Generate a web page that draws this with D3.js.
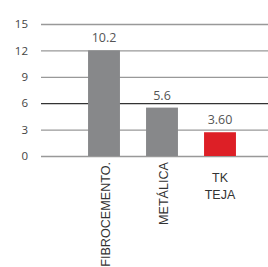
<!DOCTYPE html>
<html><head><meta charset="utf-8">
<script src="https://cdn.jsdelivr.net/npm/d3@7"></script>
<style>html,body{margin:0;padding:0;background:#fff;overflow:hidden}</style>
</head><body>
<svg id="c" width="268" height="267"></svg>
<script>
const categories = ["FIBROCEMENTO.", "METÁLICA", "TK TEJA"];
const values = [12, 5.5, 2.7];
const valueLabels = ["10.2", "5.6", "3.60"];
const barColors = ["#87888a", "#87888a", "#dd1f26"];
const yTicks = [0, 3, 6, 9, 12, 15];

const svg = d3.select("#c");
const y = d3.scaleLinear().domain([0, 15]).range([156, 24]);
const x = d3.scaleBand().domain(categories).range([75, 249]).paddingInner(0.45).paddingOuter(0.225);

// gridlines via axis
const yAxis = d3.axisLeft(y).tickValues(yTicks).tickSize(-(268 - 41)).tickPadding(13);
const gy = svg.append("g").attr("transform", "translate(41,0)").call(yAxis);
gy.select(".domain").remove();
gy.selectAll(".tick line").attr("stroke", d => d === 6 ? "#333" : "#999").attr("stroke-width", 1.3);
gy.selectAll(".tick text").attr("fill", "#444").attr("font-family", "'Open Sans', sans-serif").attr("font-size", 11.5);

// bars
svg.append("g").selectAll("rect").data(categories).join("rect")
  .attr("x", d => x(d)).attr("width", x.bandwidth())
  .attr("y", (d, i) => y(values[i])).attr("height", (d, i) => y(0) - y(values[i]))
  .attr("fill", (d, i) => barColors[i]);

// value labels
svg.append("g").selectAll("text").data(categories).join("text")
  .attr("x", d => x(d) + x.bandwidth() / 2)
  .attr("y", (d, i) => y(values[i]) - 8)
  .attr("text-anchor", "middle")
  .attr("font-family", "'Open Sans', sans-serif").attr("font-size", 12.5)
  .attr("fill", "#555")
  .text((d, i) => valueLabels[i]);

// category labels
const lab = svg.append("g").attr("font-family", "'Liberation Sans', Arial, sans-serif").attr("fill", "#333");
categories.forEach((c, i) => {
  const cx = x(c) + x.bandwidth() / 2;
  if (i < 2) {
    lab.append("text").attr("transform", `translate(${cx + 6},162) rotate(-90)`)
      .attr("font-size", 12.6).attr("text-anchor", "end").text(c);
  } else {
    const parts = c.split(" ");
    parts.forEach((p, j) => {
      lab.append("text").attr("x", cx).attr("y", 182 + j * 17).attr("font-size", 12.5)
        .attr("text-anchor", "middle").text(p);
    });
  }
});
</script>
</body></html>
